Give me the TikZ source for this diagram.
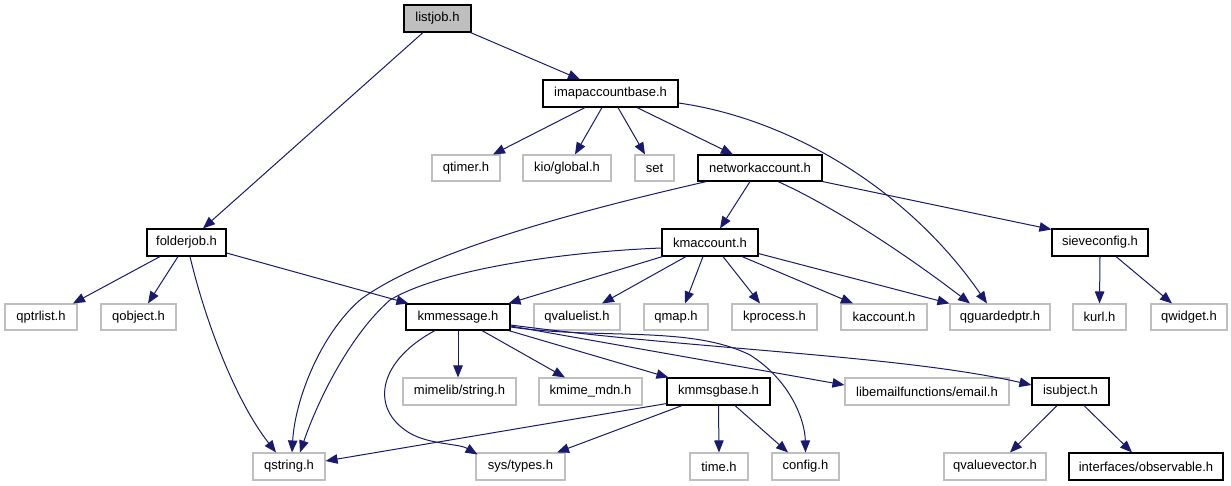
\documentclass[tikz,border=0pt]{standalone}
\usepackage{fontspec}
\setmainfont{Liberation Sans}
\usetikzlibrary{arrows.meta}
\definecolor{edgeblue}{RGB}{25,25,112}
\definecolor{lightborder}{RGB}{191,191,191}
\definecolor{listfill}{RGB}{191,191,191}
\tikzset{
  base/.style={rectangle, inner sep=0pt, minimum height=27pt, font=\fontsize{13}{15}\selectfont, text=black, line width=1.1pt},
  dark/.style={base, draw=black},
  light/.style={base, draw=lightborder},
  edge/.style={draw=edgeblue, line width=1pt, -{Triangle[length=12pt,width=9.5pt]}},
}
\begin{document}
\begin{tikzpicture}[x=1pt,y=-1pt]
\useasboundingbox (0,0) rectangle (1231,485);
% nodes
\node[dark, fill=listfill, minimum width=67pt] (listjob) at (437.5,18.5) {listjob.h};
\node[dark, minimum width=135pt] (imap) at (610.5,93.5) {imapaccountbase.h};
\node[light, minimum width=68pt, minimum height=26pt] (qtimer) at (466,168) {qtimer.h};
\node[light, minimum width=88pt, minimum height=26pt] (kio) at (567,168) {kio/global.h};
\node[light, minimum width=39pt, minimum height=26pt] (set) at (654.5,168) {set};
\node[dark, minimum width=124pt, minimum height=26pt] (network) at (760,168) {networkaccount.h};
\node[dark, minimum width=79pt] (folderjob) at (186.5,242.5) {folderjob.h};
\node[dark, minimum width=96pt] (kmaccount) at (710,242.5) {kmaccount.h};
\node[dark, minimum width=96pt] (sieve) at (1100,242.5) {sieveconfig.h};
\node[light, minimum width=72pt, minimum height=26pt] (qptrlist) at (41,317) {qptrlist.h};
\node[light, minimum width=75pt, minimum height=26pt] (qobject) at (138.5,317) {qobject.h};
\node[dark, minimum width=104pt, minimum height=26pt] (kmmessage) at (458,317) {kmmessage.h};
\node[light, minimum width=86pt, minimum height=26pt] (qvaluelist) at (577,317) {qvaluelist.h};
\node[light, minimum width=64pt, minimum height=26pt] (qmap) at (676,317) {qmap.h};
\node[light, minimum width=85pt, minimum height=26pt] (kprocess) at (774.5,317) {kprocess.h};
\node[light, minimum width=86pt, minimum height=26pt] (kaccount) at (884,317) {kaccount.h};
\node[light, minimum width=100pt, minimum height=26pt] (qguarded) at (1000,317) {qguardedptr.h};
\node[light, minimum width=53pt, minimum height=26pt] (kurl) at (1099.5,317) {kurl.h};
\node[light, minimum width=76pt, minimum height=26pt] (qwidget) at (1189,317) {qwidget.h};
\node[light, minimum width=113pt] (mimelib) at (459.5,391.5) {mimelib/string.h};
\node[light, minimum width=103pt] (kmime) at (590.5,391.5) {kmime\_mdn.h};
\node[dark, minimum width=103pt] (kmmsgbase) at (718.5,391.5) {kmmsgbase.h};
\node[light, minimum width=164pt] (libemail) at (927,391.5) {libemailfunctions/email.h};
\node[dark, minimum width=77pt] (isubject) at (1070.5,391.5) {isubject.h};
\node[light, minimum width=72pt] (qstring) at (289,466.5) {qstring.h};
\node[light, minimum width=89pt] (systypes) at (520.5,466.5) {sys/types.h};
\node[light, minimum width=58pt] (timeh) at (719,466.5) {time.h};
\node[light, minimum width=67pt] (config) at (805.5,466.5) {config.h};
\node[light, minimum width=102pt] (qvaluevector) at (995,466.5) {qvaluevector.h};
\node[dark, minimum width=154pt] (observable) at (1146,466.5) {interfaces/observable.h};
% edges
\draw[edge] ([xshift=-1pt]listjob.south east) -- ([xshift=-30.5pt]imap.north);
\draw[edge] ([xshift=-14.5pt]listjob.south) -- ([xshift=16.5pt]folderjob.north);
\draw[edge] ([xshift=-25.5pt]imap.south) -- ([xshift=27pt]qtimer.north);
\draw[edge] ([xshift=-8.5pt]imap.south) -- ([xshift=8pt]kio.north);
\draw[edge] ([xshift=7.5pt]imap.south) -- ([xshift=-9.5pt]set.north);
\draw[edge] ([xshift=26.5pt]imap.south) -- ([xshift=-27pt]network.north);
\draw[edge] ([yshift=-9.5pt]imap.east) .. controls (785,118) and (905,185) .. ([xshift=-13pt]qguarded.north);
\draw[edge] ([xshift=9pt]network.south west) .. controls (560,215) and (420,255) .. (360,300) .. controls (320,335) and (295,400) .. ([xshift=3pt]qstring.north);
\draw[edge] ([xshift=-10pt]network.south) -- ([xshift=10pt]kmaccount.north);
\draw[edge] ([xshift=18pt]network.south) .. controls (830,205) and (900,250) .. ([xshift=-30pt]qguarded.north);
\draw[edge] (network.south east) -- ([yshift=-1pt]sieve.north west);
\draw[edge] (sieve.south) -- (kurl.north);
\draw[edge] ([xshift=16pt]sieve.south) -- ([xshift=-17pt]qwidget.north);
\draw[edge] ([xshift=-26.5pt]folderjob.south) -- ([xshift=32pt]qptrlist.north);
\draw[edge] ([xshift=-8.5pt]folderjob.south) -- ([xshift=9.5pt]qobject.north);
\draw[edge] ([xshift=3.5pt]folderjob.south) .. controls (205,320) and (235,400) .. ([xshift=-13pt]qstring.north);
\draw[edge] ([yshift=-10.5pt]folderjob.east) -- ([xshift=3pt]kmmessage.north west);
\draw[edge] ([yshift=-5.5pt]kmaccount.west) .. controls (560,252) and (440,270) .. (390,300) .. controls (350,335) and (318,400) .. ([xshift=11pt]qstring.north);
\draw[edge] ([xshift=1pt]kmaccount.south west) -- ([xshift=-2pt]kmmessage.north east);
\draw[edge] ([xshift=-24pt]kmaccount.south) -- ([xshift=25pt]qvaluelist.north);
\draw[edge] ([xshift=-7pt]kmaccount.south) -- ([xshift=9pt]qmap.north);
\draw[edge] ([xshift=13pt]kmaccount.south) -- ([xshift=-14.5pt]kprocess.north);
\draw[edge] ([xshift=32pt]kmaccount.south) -- ([xshift=-31pt]kaccount.north);
\draw[edge] ([yshift=3pt]kmaccount.south east) -- (qguarded.north west);
\draw[edge] ([xshift=-23pt]kmmessage.south) .. controls (380,360) and (370,405) .. (405,430) .. controls (425,445) and (458,443) .. ([xshift=2pt,yshift=-2pt]systypes.north west);
\draw[edge] (kmmessage.south) -- ([xshift=-1.5pt]mimelib.north);
\draw[edge] ([xshift=24pt]kmmessage.south) -- ([xshift=-25.5pt]kmime.north);
\draw[edge] ([xshift=-2pt]kmmessage.south east) -- ([xshift=2pt]kmmsgbase.north west);
\draw[edge] ([yshift=-10pt]kmmessage.east) .. controls (600,340) and (690,325) .. (750,355) .. controls (790,380) and (805,420) .. (config.north);
\draw[edge] ([yshift=-9pt]kmmessage.east) -- ([yshift=6.5pt]libemail.west);
\draw[edge] ([yshift=-8pt]kmmessage.east) .. controls (700,350) and (900,355) .. ([yshift=6.5pt]isubject.west);
\draw[edge] ([yshift=2pt]kmmsgbase.south west) -- ([yshift=5.5pt]qstring.east);
\draw[edge] ([xshift=-36.5pt]kmmsgbase.south) -- ([xshift=36.5pt]systypes.north);
\draw[edge] (kmmsgbase.south) -- (timeh.north);
\draw[edge] ([xshift=16.5pt]kmmsgbase.south) -- ([xshift=-17.5pt]config.north);
\draw[edge] ([xshift=-13.5pt]isubject.south) -- ([xshift=15pt]qvaluevector.north);
\draw[edge] ([xshift=13.5pt]isubject.south) -- ([xshift=-14pt]observable.north);
\end{tikzpicture}
\end{document}
